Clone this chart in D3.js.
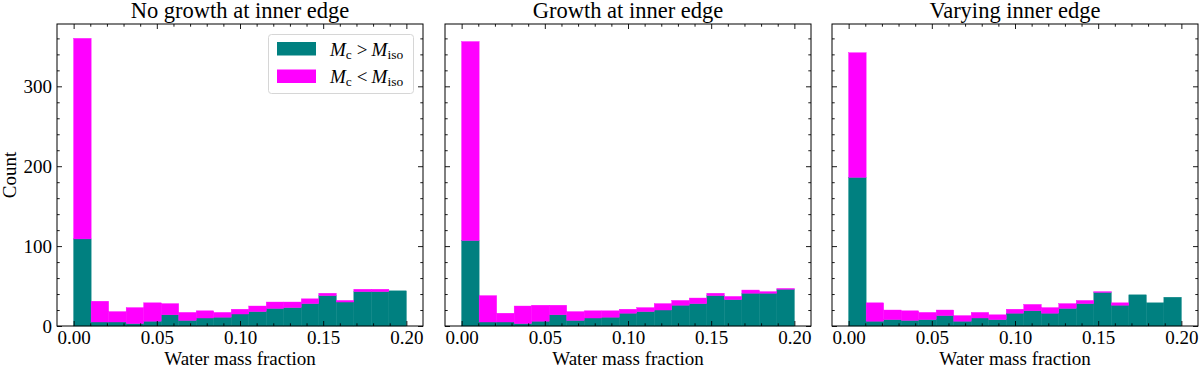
<!DOCTYPE html>
<html>
<head>
<meta charset="utf-8">
<script src="https://cdn.jsdelivr.net/npm/d3@7"></script>
<style>
  body { margin: 0; background: #fff; }
  svg { display: block; font-family: "Liberation Serif", "Times New Roman", serif; }
</style>
</head>
<body>
<div id="chart"></div>
<script>
// Panel titles
const titles = ["No growth at inner edge", "Growth at inner edge", "Varying inner edge"];

// Counts per bin (19 bins between 0 and 0.2)
// teal part: Mc > Miso
const above1 = [109, 5, 5, 3, 6, 14, 7, 10, 11, 15, 18, 22, 23, 28, 38, 30, 43, 43, 44];
const above2 = [107, 5, 5, 3, 6, 14, 7, 10, 11, 16, 18, 20, 26, 28, 38, 33, 41, 41, 46];
const above3 = [186, 6, 8, 7, 8, 13, 6, 10, 8, 16, 19, 16, 22, 28, 42, 26, 39, 29, 36];
// magenta part stacked on top: Mc < Miso
const below1 = [251, 26, 13, 20, 23, 14, 10, 9, 6, 6, 7, 8, 7, 6, 3, 2, 3, 3, 0];
const below2 = [249, 33, 11, 22, 20, 12, 11, 9, 8, 5, 5, 8, 6, 7, 3, 4, 4, 2, 1];
const below3 = [156, 23, 12, 12, 9, 7, 7, 7, 6, 5, 8, 7, 6, 4, 1, 3, 0, 0, 0];

const xMajor = [0.00, 0.05, 0.10, 0.15, 0.20];
const yMajor = [0, 100, 200, 300];

const nBins = 19, xMin = 0, xMax = 0.2;
const edges = d3.range(nBins + 1).map(i => xMin + i * (xMax - xMin) / nBins);

const colAbove = "#008080", colBelow = "#ff00ff";

// layout
const W = 1200, H = 368;
const lefts = [57, 445, 832];
const pw = 366, ph = 302, padTop = 24;
const fs = 19;

const svg = d3.select("#chart").append("svg")
  .attr("width", W).attr("height", H);

const x = d3.scaleLinear().domain([-0.01, 0.21]).range([0, pw]);
const y = d3.scaleLinear().domain([0, 378]).range([ph, 0]);

const xMinor = d3.range(1, 21).map(i => i / 100).filter(v => !xMajor.some(m => Math.abs(m - v) < 1e-9));
const yMinor = d3.range(20, 378, 20).filter(v => v % 100 !== 0);

const panels = [[above1, below1], [above2, below2], [above3, below3]];

panels.forEach(([above, below], p) => {
  const g = svg.append("g").attr("transform", `translate(${lefts[p]},${padTop})`);

  const bins = above.map((a, i) => ({x0: edges[i], x1: edges[i + 1], a: a, b: below[i]}));

  // stacked bars
  g.selectAll(".above").data(bins).enter().append("rect")
    .attr("x", d => x(d.x0)).attr("width", d => x(d.x1) - x(d.x0))
    .attr("y", d => y(d.a)).attr("height", d => y(0) - y(d.a))
    .attr("fill", colAbove).attr("stroke", colAbove).attr("stroke-width", 0.4);
  g.selectAll(".below").data(bins.filter(d => d.b > 0)).enter().append("rect")
    .attr("x", d => x(d.x0)).attr("width", d => x(d.x1) - x(d.x0))
    .attr("y", d => y(d.a + d.b)).attr("height", d => y(d.a) - y(d.a + d.b))
    .attr("fill", colBelow).attr("stroke", colBelow).attr("stroke-width", 0.4);

  // axes, ticks pointing inward on all sides
  const fmt = d3.format(".2f");
  const addAxis = (axis, tr, labels) => {
    const a = g.append("g").attr("transform", tr).call(axis);
    a.select(".domain").remove();
    a.selectAll("line").attr("stroke", "#000").attr("stroke-width", 0.9);
    a.selectAll("text").attr("font-size", fs).attr("fill", "#000")
      .attr("font-family", "Liberation Serif, Times New Roman, serif");
    if (!labels) a.selectAll("text").remove();
    return a;
  };

  addAxis(d3.axisBottom(x).tickValues(xMajor).tickFormat(fmt).tickSize(-5).tickPadding(5), `translate(0,${ph})`, true);
  addAxis(d3.axisBottom(x).tickValues(xMinor).tickSize(-2.7), `translate(0,${ph})`, false);
  addAxis(d3.axisTop(x).tickValues(xMajor).tickSize(-5), "translate(0,0)", false);
  addAxis(d3.axisTop(x).tickValues(xMinor).tickSize(-2.7), "translate(0,0)", false);
  addAxis(d3.axisLeft(y).tickValues(yMajor).tickSize(-5).tickPadding(5), "translate(0,0)", p === 0);
  addAxis(d3.axisLeft(y).tickValues(yMinor).tickSize(-2.7), "translate(0,0)", false);
  addAxis(d3.axisRight(y).tickValues(yMajor).tickSize(-5), `translate(${pw},0)`, false);
  addAxis(d3.axisRight(y).tickValues(yMinor).tickSize(-2.7), `translate(${pw},0)`, false);

  // frame
  g.append("rect").attr("width", pw).attr("height", ph)
    .attr("fill", "none").attr("stroke", "#000").attr("stroke-width", 1);

  // title
  g.append("text").attr("x", pw / 2).attr("y", -6)
    .attr("text-anchor", "middle").attr("font-size", 22.5).text(titles[p]);

  // x label
  g.append("text").attr("x", pw / 2).attr("y", ph + 39)
    .attr("text-anchor", "middle").attr("font-size", fs).text("Water mass fraction");

  if (p === 0) {
    g.append("text")
      .attr("transform", `translate(${16 - lefts[0]},${ph / 2}) rotate(-90)`)
      .attr("text-anchor", "middle").attr("font-size", fs).text("Count");

    // legend
    const lg = g.append("g").attr("transform", `translate(${268 - lefts[0]},${34 - padTop})`);
    lg.append("rect").attr("x", 0.5).attr("y", 0.5).attr("width", 145).attr("height", 59).attr("rx", 3)
      .attr("fill", "#fff").attr("fill-opacity", 0.8).attr("stroke", "#d6d6d6");
    const items = [{c: colAbove, op: ">"}, {c: colBelow, op: "<"}];
    items.forEach((it, i) => {
      const yy = 8 + i * 27.5;
      lg.append("rect").attr("x", 9).attr("y", yy).attr("width", 39).attr("height", 13.5).attr("fill", it.c);
      const t = lg.append("text").attr("x", 62).attr("y", yy + 13.5).attr("font-size", fs);
      t.append("tspan").attr("font-style", "italic").text("M");
      t.append("tspan").attr("font-size", 13.5).attr("dy", 3).text("c");
      t.append("tspan").attr("dy", -3).attr("dx", 5).text(it.op);
      t.append("tspan").attr("font-style", "italic").attr("dx", 4).text("M");
      t.append("tspan").attr("font-size", 13.5).attr("dy", 3).text("iso");
    });
  }
});
</script>
</body>
</html>
